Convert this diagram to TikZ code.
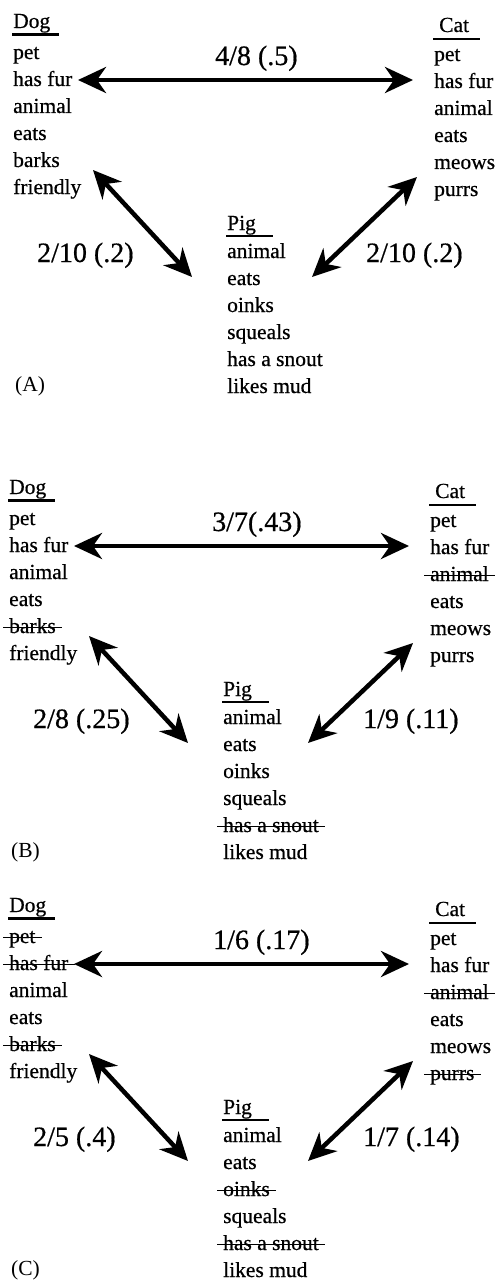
\documentclass[tikz,border=0pt]{standalone}
\usepackage{fontspec}
\usepackage{tikz}
\usetikzlibrary{arrows.meta}
\setmainfont{Liberation Serif}[BoldFont=Liberation Serif,BoldFeatures={FakeBold=0.6}]

\begin{document}
\begin{tikzpicture}[x=1pt,y=-1pt]
  \tikzstyle{word}=[anchor=base west,inner sep=0pt,font=\fontsize{21.5}{26}\selectfont\bfseries]
  \tikzstyle{ratio}=[anchor=base west,inner sep=0pt,font=\fontsize{28}{32}\selectfont\bfseries]
  \tikzstyle{rule}=[line width=2.2pt]
  \tikzstyle{strike}=[line width=1.5pt]
  \tikzstyle{link}=[line width=4.5pt,{Stealth[length=28pt,width=26pt,inset=9pt]}-{Stealth[length=28pt,width=26pt,inset=9pt]}]
  \useasboundingbox (0,0) rectangle (496,1284);
  % one panel per pass: A, B, C
  \foreach \p/\dx/\dy in {A/0/0,B/-4/466,C/-4/884}{
    \begin{scope}[shift={(\dx,\dy)}]
      \node[word] (dog\p) at (13,28) {Dog};
      \foreach \w [count=\i] in {pet,has fur,animal,eats,barks,friendly}
        \node[word] (dog\p\i) at (13,32+27*\i) {\w};
      \node[word] (cat\p) at (439,32) {Cat};
      \foreach \w [count=\i] in {pet,has fur,animal,eats,meows,purrs}
        \node[word] (cat\p\i) at (434,34+27*\i) {\w};
      \node[word] (pig\p) at (227,230) {Pig};
      \foreach \w [count=\i] in {animal,eats,oinks,squeals,has a snout,likes mud}
        \node[word] (pig\p\i) at (227,231+27*\i) {\w};
      \node[word,font=\fontsize{21.5}{26}\selectfont] (tag\p) at (15,391) {(\p)};
      \draw[rule] ([xshift=-1pt,yshift=-6.5pt]dog\p.base west) -- ++(47,0);
      \draw[rule] ([xshift=-6pt,yshift=-7pt]cat\p.base west) -- ++(47,0);
      \draw[rule] ([xshift=-1pt,yshift=-6pt]pig\p.base west) -- ++(47,0);
      \coordinate (tl\p) at (78,80);
      \coordinate (tr\p) at (413,80);
      \coordinate (dl\p) at (93,170);
      \coordinate (pl\p) at (192,277);
      \coordinate (cr\p) at (417,177);
      \coordinate (pr\p) at (312,277);
      \draw[link] (tl\p) -- (tr\p);
      \draw[link] (dl\p) -- (pl\p);
      \draw[link] (cr\p) -- (pr\p);
    \end{scope}
  }
  \node[ratio] (topA) at (215,65) {4/8 (.5)};
  \node[ratio] (leftA) at (37,262) {2/10 (.2)};
  \node[ratio] (rightA) at (366,262) {2/10 (.2)};
  \node[ratio] (topB) at (212,531) {3/7(.43)};
  \node[ratio] (leftB) at (33,728) {2/8 (.25)};
  \node[ratio] (rightB) at (363,728) {1/9 (.11)};
  \node[ratio] (topC) at (213,949) {1/6 (.17)};
  \node[ratio] (leftC) at (33,1146) {2/5 (.4)};
  \node[ratio] (rightC) at (363,1146) {1/7 (.14)};
  % crossed-out features
  \foreach \n in {dogB5,catB3,pigB5,dogC1,dogC2,dogC5,catC3,catC6,pigC3,pigC5}
    \draw[strike] ([xshift=-6pt,yshift=5.5pt]\n.base west) -- ([xshift=6pt,yshift=5.5pt]\n.base east);
\end{tikzpicture}
\end{document}
